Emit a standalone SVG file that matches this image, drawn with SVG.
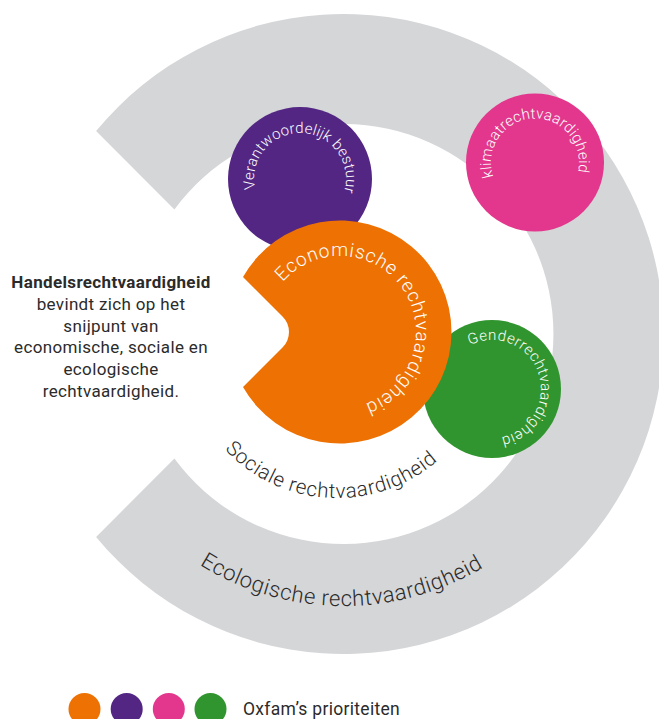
<svg xmlns="http://www.w3.org/2000/svg" xmlns:xlink="http://www.w3.org/1999/xlink" width="659" height="719" viewBox="0 0 659 719">
<style>
.arc{font-family:Roboto,"Liberation Sans",sans-serif;font-weight:300;}
.w{fill:#ffffff;}
.dk{fill:#2b2b2b;}
.lbl{font-family:Roboto,"Liberation Sans",sans-serif;font-size:17px;letter-spacing:0.35px;fill:#2b2b2b;text-anchor:middle;}
</style>
<defs>
<path id="pPurple" d="M300,225 A46,46 0 1 1 300,133 A46,46 0 1 1 300,225"/>
<path id="pPink" d="M535,206.5 A44,44 0 1 1 535,118.5 A44,44 0 1 1 535,206.5"/>
<path id="pOrange" d="M277.7,375.6 A76,76 0 1 1 402.3,288.4 A76,76 0 1 1 277.7,375.6"/>
<path id="pGreen" d="M445.53,404.55 A49,49 0 1 1 538.47,373.45 A49,49 0 1 1 445.53,404.55"/>
<path id="pSoc" d="M344.95,194.21 A152,152 0 1 0 329.05,497.79 A152,152 0 1 0 344.95,194.21"/>
<path id="pEco" d="M338.75,62.04 A272,272 0 1 0 348.25,605.96 A272,272 0 1 0 338.75,62.04"/>
</defs>
<g id="ring">
<path d="M96.1,131.1 A320,320 0 1 1 96.1,536.9 L174.4,458.6 A210,210 0 1 0 174.4,209.4 Z" fill="#d5d6d8"/>
<text class="arc dk" font-size="22" letter-spacing="0.6"><textPath xlink:href="#pEco" startOffset="49.6%" text-anchor="middle">Ecologische rechtvaardigheid</textPath></text>
</g>
<g id="sociale">
<text class="arc dk" font-size="20.5" letter-spacing="0.7"><textPath xlink:href="#pSoc" startOffset="50%" text-anchor="middle">Sociale rechtvaardigheid</textPath></text>
</g>
<g id="klimaat">
<circle cx="535" cy="162.5" r="69" fill="#e2378c"/>
<text class="arc w" font-size="15" letter-spacing="0.2"><textPath xlink:href="#pPink" startOffset="49.17%" text-anchor="middle">klimaatrechtvaardigheid</textPath></text>
</g>
<g id="bestuur">
<circle cx="300" cy="179" r="72" fill="#532683"/>
<text class="arc w" font-size="15" letter-spacing="0.2"><textPath xlink:href="#pPurple" startOffset="50.56%" text-anchor="middle">Verantwoordelijk bestuur</textPath></text>
</g>
<g id="gender">
<circle cx="492" cy="389" r="69" fill="#31952f"/>
<text class="arc w" font-size="15" letter-spacing="0.5"><textPath xlink:href="#pGreen" startOffset="50%" text-anchor="middle">Genderrechtvaardigheid</textPath></text>
</g>
<g id="economisch">
<path d="M243,277 A111.5,111.5 0 1 1 243,387 L282.5,347.6 A22,22 0 0 0 282.5,316.4 Z" fill="#ee7203"/>
<text class="arc w" font-size="19" letter-spacing="0.8"><textPath xlink:href="#pOrange" startOffset="50.3%" text-anchor="middle">Economische rechtvaardigheid</textPath></text>
</g>
<g id="uitleg">
<text class="lbl" x="111" y="288" font-weight="700">Handelsrechtvaardigheid</text>
<text class="lbl" x="111" y="310">bevindt zich op het</text>
<text class="lbl" x="111" y="332">snijpunt van</text>
<text class="lbl" x="111" y="353">economische, sociale en</text>
<text class="lbl" x="111" y="375">ecologische</text>
<text class="lbl" x="111" y="397">rechtvaardigheid.</text>
</g>
<g id="legenda">
<circle cx="84.5" cy="709" r="16" fill="#ee7203"/>
<circle cx="126.7" cy="709" r="16" fill="#532683"/>
<circle cx="168.8" cy="709" r="16" fill="#e2378c"/>
<circle cx="210.5" cy="709" r="16" fill="#31952f"/>
<text x="243" y="715" font-family="Roboto,'Liberation Sans',sans-serif" font-size="17.5" letter-spacing="0.3" fill="#2b2b2b">Oxfam’s prioriteiten</text>
</g>
<g id="connectors"></g>
</svg>
